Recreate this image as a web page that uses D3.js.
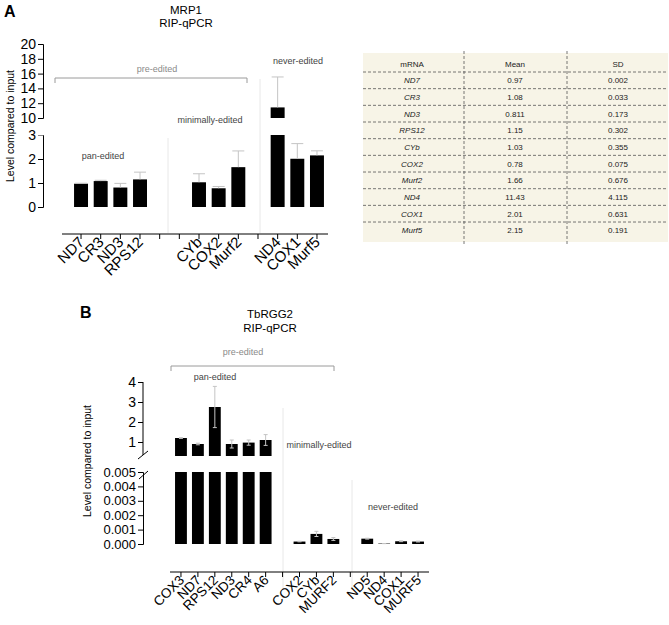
<!DOCTYPE html>
<html><head><meta charset="utf-8">
<script src="https://cdn.jsdelivr.net/npm/d3@7"></script>
<style>
body{margin:0;background:#fff;}
svg{font-family:"Liberation Sans",Arial,sans-serif;}
</style></head>
<body>
<svg id="chart" width="669" height="625"></svg>
<script>
// ---------- Data: panel A (MRP1) ----------
const slotsA = ["ND7","CR3","ND3","RPS12","_a1","_a2","CYb","COX2","Murf2","_a3","ND4","COX1","Murf5"];
const genesA = ["ND7","CR3","ND3","RPS12","CYb","COX2","Murf2","ND4","COX1","Murf5"];
const meanA = [0.97,1.08,0.811,1.15,1.03,0.78,1.66,11.43,2.01,2.15];
const sdA   = [0.002,0.033,0.173,0.302,0.355,0.075,0.676,4.115,0.631,0.191];
const meanAText = ["0.97","1.08","0.811","1.15","1.03","0.78","1.66","11.43","2.01","2.15"];
const sdAText   = ["0.002","0.033","0.173","0.302","0.355","0.075","0.676","4.115","0.631","0.191"];
const ticksAUpper = [10,12,14,16,18,20];
const ticksALower = [0,1,2,3];
const tableHeader = ["mRNA","Mean","SD"];

// ---------- Data: panel B (TbRGG2) ----------
const slotsB = ["COX3","ND7","RPS12","ND3","CR4","A6","_b1","COX2","CYb","MURF2","_b2","ND5","ND4","COX1","MURF5"];
const genesB = ["COX3","ND7","RPS12","ND3","CR4","A6","COX2","CYb","MURF2","ND5","ND4","COX1","MURF5"];
const meanB = [1.2,0.9,2.75,0.9,0.97,1.1,0.00017,0.0007,0.00035,0.00037,0.00003,0.00019,0.00017];
const errB  = [0.02,0.04,1.03,0.2,0.13,0.27,0.00002,0.00018,0.0001,0.00003,0.000005,0.00003,0.00003];
const ticksBUpper = [1,2,3,4];
const ticksBLower = [0,0.001,0.002,0.003,0.004,0.005];

const svg = d3.select("#chart");
const errColor = "#c4c4c4";
const faint = "#e8e8e8";

function ytick(g, scale, ticks, fmt, axisX, fs){
  const ax = d3.axisLeft(scale).tickValues(ticks).tickFormat(fmt).tickSize(5).tickPadding(2);
  const gg = g.append("g").attr("transform",`translate(${axisX},0)`).call(ax);
  gg.selectAll("text").attr("font-size",fs).attr("fill","#000").attr("font-family","Liberation Sans, Arial, sans-serif");
  gg.selectAll("line,path").attr("stroke","#000");
  return gg;
}

// ================= PANEL A =================
const gA = svg.append("g");
const xA = d3.scaleBand().domain(slotsA).range([71.2,326.8]).paddingInner(0.29).paddingOuter(0.145);
const yAU = d3.scaleLinear().domain([10,20]).range([118,44]);
const yAL = d3.scaleLinear().domain([0,3]).range([207,135]);
const axAX = 43;

gA.append("text").attr("x",4).attr("y",17).attr("font-size",16).attr("font-weight","bold").text("A");
gA.append("text").attr("x",186).attr("y",14).attr("text-anchor","middle").attr("font-size",11.5).text("MRP1");
gA.append("text").attr("x",186).attr("y",27).attr("text-anchor","middle").attr("font-size",11.5).text("RIP-qPCR");
gA.append("text").attr("transform","translate(14,126) rotate(-90)").attr("text-anchor","middle").attr("font-size",10.5).text("Level compared to input");

// faint separators
gA.append("line").attr("x1",168).attr("x2",168).attr("y1",138).attr("y2",233).attr("stroke",faint);
gA.append("line").attr("x1",260).attr("x2",260).attr("y1",79).attr("y2",233).attr("stroke",faint);

ytick(gA, yAU, ticksAUpper, d3.format("d"), axAX, 14);
const lowA = ytick(gA, yAL, ticksALower, d3.format("d"), axAX, 14);
lowA.selectAll(".tick line").filter(d=>d===3).attr("stroke","#888");

// bars A
genesA.forEach((g,i)=>{
  const v = meanA[i], s = sdA[i];
  const x = xA(g), w = xA.bandwidth(), cx = x + w/2;
  const lowTop = Math.min(v,3);
  gA.append("rect").attr("x",x).attr("width",w).attr("y",yAL(lowTop)).attr("height",yAL(0)-yAL(lowTop)).attr("fill","#000");
  let ys;
  if (v > 10){
    gA.append("rect").attr("x",x).attr("width",w).attr("y",yAU(v)).attr("height",yAU(10)-yAU(v)).attr("fill","#000");
    ys = yAU;
  } else ys = yAL;
  if (s > 0.01){
    gA.append("line").attr("x1",cx).attr("x2",cx).attr("y1",ys(v)).attr("y2",ys(v+s)).attr("stroke",errColor);
    gA.append("line").attr("x1",cx-w/2+1).attr("x2",cx+w/2-1).attr("y1",ys(v+s)).attr("y2",ys(v+s)).attr("stroke",errColor);
  } else {
    gA.append("line").attr("x1",cx-w/2+1).attr("x2",cx+w/2-1).attr("y1",ys(v)-0.5).attr("y2",ys(v)-0.5).attr("stroke",errColor);
  }
});

// x axis A
const axAY = 234;
gA.append("line").attr("x1",62).attr("x2",328).attr("y1",axAY).attr("y2",axAY).attr("stroke","#000");
slotsA.forEach(s=>{
  const cx = xA(s)+xA.bandwidth()/2;
  gA.append("line").attr("x1",cx).attr("x2",cx).attr("y1",axAY).attr("y2",axAY+5).attr("stroke","#000");
  if(!s.startsWith("_")){
    gA.append("text").attr("transform",`translate(${cx+4},${axAY+9}) rotate(-45)`).attr("text-anchor","end")
      .attr("font-size",15).text(s);
  }
});

// annotations A
gA.append("text").attr("x",157).attr("y",72).attr("text-anchor","middle").attr("font-size",9).attr("fill","#8a8a8a").text("pre-edited");
gA.append("path").attr("d","M55,83 V78 H247 V83").attr("fill","none").attr("stroke","#9a9a9a");
gA.append("text").attr("x",298).attr("y",64).attr("text-anchor","middle").attr("font-size",9).attr("fill","#444").text("never-edited");
gA.append("text").attr("x",210).attr("y",123).attr("text-anchor","middle").attr("font-size",9).attr("fill","#444").text("minimally-edited");
gA.append("text").attr("x",103).attr("y",159).attr("text-anchor","middle").attr("font-size",9).attr("fill","#444").text("pan-edited");

// ================= TABLE =================
const gT = svg.append("g");
const tX0 = 363, tX1 = 668, tY0 = 53, tY1 = 242;
const rowY = d3.scaleLinear().domain([0,1]).range([72,88.67]); // line positions
const colX = [412,515,618];
gT.append("rect").attr("x",tX0).attr("y",tY0).attr("width",tX1-tX0).attr("height",tY1-tY0).attr("fill","#f7f4e7");
for(let k=0;k<genesA.length;k++){
  gT.append("line").attr("x1",tX0).attr("x2",tX1).attr("y1",rowY(k)).attr("y2",rowY(k))
    .attr("stroke","#555").attr("stroke-dasharray","3,2").attr("stroke-width",0.8);
}
[464,567].forEach(x=>{
  gT.append("line").attr("x1",x).attr("x2",x).attr("y1",tY0-2).attr("y2",tY1+4)
    .attr("stroke","#555").attr("stroke-dasharray","3,2").attr("stroke-width",0.8);
});
tableHeader.forEach((h,j)=>{
  gT.append("text").attr("x",colX[j]).attr("y",67).attr("text-anchor","middle").attr("font-size",8).attr("fill","#222").text(h);
});
genesA.forEach((g,i)=>{
  const ty = rowY(i) + 11.3;
  gT.append("text").attr("x",colX[0]).attr("y",ty).attr("text-anchor","middle").attr("font-size",8).attr("font-style","italic").attr("fill","#222").text(g);
  gT.append("text").attr("x",colX[1]).attr("y",ty).attr("text-anchor","middle").attr("font-size",8).attr("fill","#222").text(meanAText[i]);
  gT.append("text").attr("x",colX[2]).attr("y",ty).attr("text-anchor","middle").attr("font-size",8).attr("fill","#222").text(sdAText[i]);
});

// ================= PANEL B =================
const gB = svg.append("g");
const xB = d3.scaleBand().domain(slotsB).range([172.5,426.5]).paddingInner(0.3).paddingOuter(0.15);
const yBU = d3.scaleLinear().domain([0.3,4]).range([456,382]);
const yBL = d3.scaleLinear().domain([0,0.005]).range([544,472]);
const axBX = 143;

gB.append("text").attr("x",80).attr("y",318).attr("font-size",16).attr("font-weight","bold").text("B");
gB.append("text").attr("x",270).attr("y",318).attr("text-anchor","middle").attr("font-size",11.5).text("TbRGG2");
gB.append("text").attr("x",270).attr("y",332).attr("text-anchor","middle").attr("font-size",11.5).text("RIP-qPCR");
gB.append("text").attr("transform","translate(91,461) rotate(-90)").attr("text-anchor","middle").attr("font-size",10.5).text("Level compared to input");

gB.append("line").attr("x1",283).attr("x2",283).attr("y1",408).attr("y2",590).attr("stroke",faint);
gB.append("line").attr("x1",352).attr("x2",352).attr("y1",480).attr("y2",590).attr("stroke",faint);

// y axes B (custom domain lines for the break)
const bu = ytick(gB, yBU, ticksBUpper, d3.format("d"), axBX, 14);
bu.select(".domain").remove();
gB.append("line").attr("x1",axBX).attr("x2",axBX).attr("y1",yBU(4)).attr("y2",455).attr("stroke","#000");
const bl = ytick(gB, yBL, ticksBLower, d3.format(".3f"), axBX, 13);
// break slashes
gB.append("line").attr("x1",axBX-5).attr("x2",axBX+5).attr("y1",459).attr("y2",451).attr("stroke","#000");
gB.append("line").attr("x1",axBX-4).attr("x2",axBX+5).attr("y1",479).attr("y2",471).attr("stroke","#000");

// bars B
genesB.forEach((g,i)=>{
  const v = meanB[i], e = errB[i];
  const x = xB(g), w = xB.bandwidth(), cx = x + w/2;
  const lowTop = Math.min(v,0.005);
  gB.append("rect").attr("x",x).attr("width",w).attr("y",yBL(lowTop)).attr("height",yBL(0)-yBL(lowTop)).attr("fill","#000");
  let ys = yBL;
  if (v > 0.3){
    gB.append("rect").attr("x",x).attr("width",w).attr("y",yBU(v)).attr("height",yBU(0.3)-yBU(v)).attr("fill","#000");
    ys = yBU;
  }
  const cw = 2;
  gB.append("line").attr("x1",cx).attr("x2",cx).attr("y1",ys(v-e)).attr("y2",ys(v+e)).attr("stroke",errColor);
  gB.append("line").attr("x1",cx-cw).attr("x2",cx+cw).attr("y1",ys(v+e)).attr("y2",ys(v+e)).attr("stroke",errColor);
  gB.append("line").attr("x1",cx-cw).attr("x2",cx+cw).attr("y1",ys(v-e)).attr("y2",ys(v-e)).attr("stroke",errColor);
});

// x axis B
const axBY = 572;
gB.append("line").attr("x1",170).attr("x2",429).attr("y1",axBY).attr("y2",axBY).attr("stroke","#000");
slotsB.forEach(s=>{
  const cx = xB(s)+xB.bandwidth()/2;
  gB.append("line").attr("x1",cx).attr("x2",cx).attr("y1",axBY).attr("y2",axBY+5).attr("stroke","#000");
  if(!s.startsWith("_")){
    gB.append("text").attr("transform",`translate(${cx+4},${axBY+9}) rotate(-45)`).attr("text-anchor","end")
      .attr("font-size",13.5).text(s);
  }
});

// annotations B
gB.append("text").attr("x",243).attr("y",355).attr("text-anchor","middle").attr("font-size",9).attr("fill","#8a8a8a").text("pre-edited");
gB.append("path").attr("d","M171,371 V366 H334 V371").attr("fill","none").attr("stroke","#9a9a9a");
gB.append("text").attr("x",215).attr("y",380).attr("text-anchor","middle").attr("font-size",9).attr("fill","#444").text("pan-edited");
gB.append("text").attr("x",319).attr("y",448).attr("text-anchor","middle").attr("font-size",9).attr("fill","#444").text("minimally-edited");
gB.append("text").attr("x",393).attr("y",510).attr("text-anchor","middle").attr("font-size",9).attr("fill","#444").text("never-edited");
</script>
</body></html>
